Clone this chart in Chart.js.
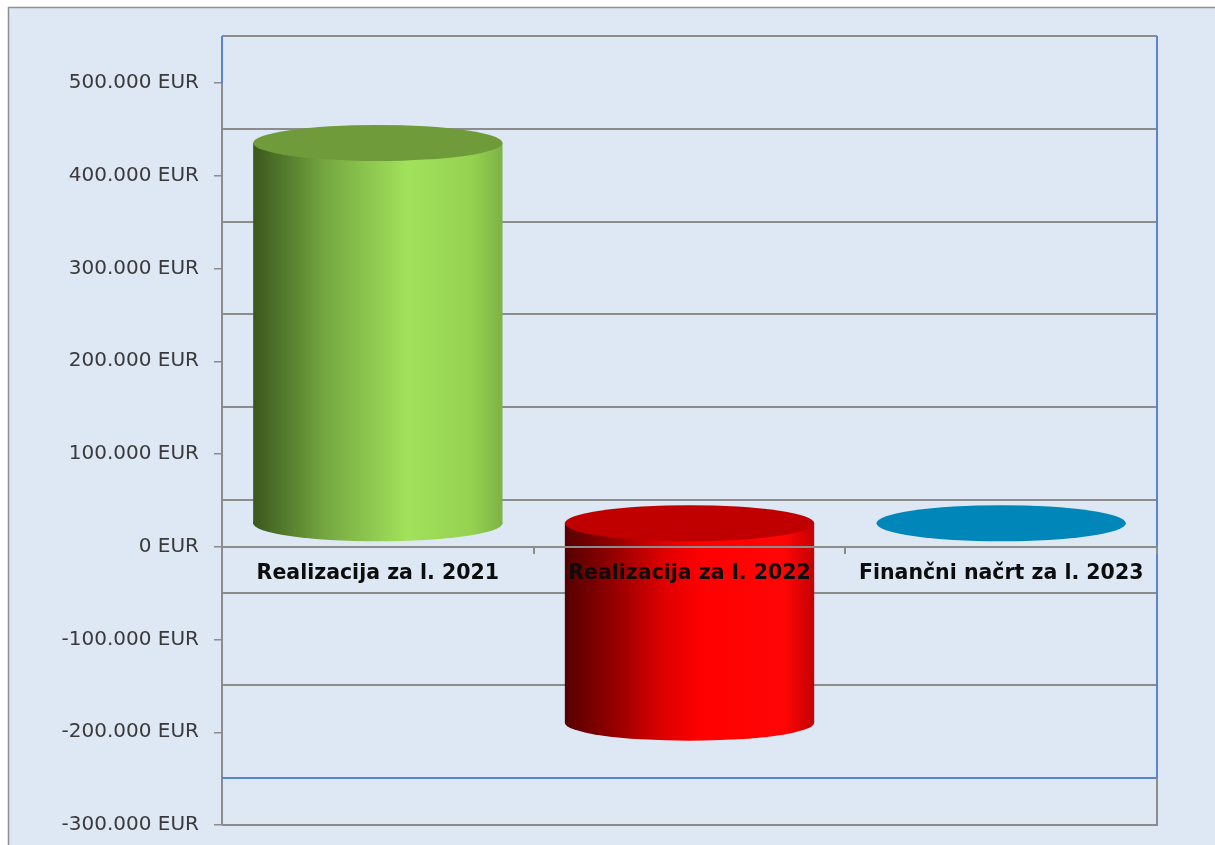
<!DOCTYPE html>
<html>
<head>
<meta charset="utf-8">
<script src="https://cdn.jsdelivr.net/npm/chart.js@4.4.1/dist/chart.umd.min.js"></script>
<style>
  body { margin: 0; background: #fff; }
  canvas { display: block; }
</style>
</head>
<body>
<canvas id="chart" width="1215" height="845"></canvas>
<script>
// data
const categories = ['Realizacija za l. 2021', 'Realizacija za l. 2022', 'Finančni načrt za l. 2023'];
const amounts = [410000, -215000, 0];
const axisMin = -300000;
const axisMax = 500000;
const axisStep = 100000;

// cylinder looks
const sideStops = [
  [[0, '#3a581d'], [0.3, '#76aa42'], [0.62, '#a2e25b'], [0.88, '#94d150'], [1, '#7db245']],
  [[0, '#560000'], [0.18, '#8e0000'], [0.4, '#e00000'], [0.55, '#ff0000'], [0.88, '#ff0606'], [1, '#c40000']],
  [[0, '#006c96'], [0.5, '#0086b9'], [1, '#0078a6']]
];
const capColors = ['#6f9b3b', '#c00000', '#0086b9'];

const bgColor = '#dde8f4';
const gridGray = '#8c8c8c';
const wallBlue = '#5a84d0';
const depth = 47;     // back wall sits this many px above the front
const capRy = 18;

function fmtEur(v) {
  const s = Math.abs(v).toString().replace(/\B(?=(\d{3})+(?!\d))/g, '.');
  return (v < 0 ? '-' : '') + s + ' EUR';
}

const wallPlugin = {
  id: 'wall',
  beforeDraw(chart) {
    const c = chart.ctx;
    c.save();
    c.fillStyle = '#fff';
    c.fillRect(0, 0, chart.width, chart.height);
    c.fillStyle = bgColor;
    c.fillRect(8, 7, chart.width, chart.height);
    c.strokeStyle = '#8f8f8f';
    c.lineWidth = 1.5;
    c.beginPath();
    c.moveTo(8.5, chart.height);
    c.lineTo(8.5, 7.5);
    c.lineTo(chart.width, 7.5);
    c.stroke();
    c.restore();
  },
  beforeDatasetsDraw(chart) {
    const c = chart.ctx;
    const a = chart.chartArea;
    const y = chart.scales.y;
    c.save();
    c.lineWidth = 2;
    const vals = y.ticks.map(t => t.value);
    vals.forEach(v => {
      const yy = Math.round(y.getPixelForValue(v) - depth);
      c.strokeStyle = v === axisMin ? wallBlue : gridGray;
      c.beginPath();
      c.moveTo(a.left, yy);
      c.lineTo(a.right, yy);
      c.stroke();
    });
    const topBack = y.getPixelForValue(axisMax) - depth;
    const botBack = y.getPixelForValue(axisMin) - depth;
    // right wall edge
    c.strokeStyle = wallBlue;
    c.beginPath();
    c.moveTo(a.right, topBack);
    c.lineTo(a.right, botBack);
    c.stroke();
    c.strokeStyle = gridGray;
    c.beginPath();
    c.moveTo(a.right, botBack);
    c.lineTo(a.right, a.bottom);
    c.lineTo(a.left, a.bottom);
    c.stroke();
    // left edge above the front axis
    c.strokeStyle = wallBlue;
    c.beginPath();
    c.moveTo(a.left, topBack);
    c.lineTo(a.left, a.top);
    c.stroke();
    c.restore();
  },
  afterDatasetsDraw(chart) {
    const c = chart.ctx;
    const y = chart.scales.y;
    const meta = chart.getDatasetMeta(0);
    meta.data.forEach((bar, i) => {
      const v = amounts[i];
      const rx = bar.width / 2;
      const x0 = bar.x - rx, x1 = bar.x + rx;
      const yTop = y.getPixelForValue(Math.max(v, 0)) - depth / 2;
      const yBot = y.getPixelForValue(Math.min(v, 0)) - depth / 2;
      const g = c.createLinearGradient(x0, 0, x1, 0);
      sideStops[i].forEach(s => g.addColorStop(s[0], s[1]));
      c.save();
      if (yBot - yTop > 0.5) {
        c.fillStyle = g;
        c.beginPath();
        c.ellipse(bar.x, yBot, rx, capRy, 0, 0, Math.PI * 2);
        c.fill();
        c.fillRect(x0, yTop, x1 - x0, yBot - yTop);
      }
      c.fillStyle = capColors[i];
      c.beginPath();
      c.ellipse(bar.x, yTop, rx, capRy, 0, 0, Math.PI * 2);
      c.fill();
      c.restore();
    });
  }
};

new Chart(document.getElementById('chart'), {
  type: 'bar',
  data: {
    labels: categories,
    datasets: [{
      data: amounts,
      backgroundColor: 'rgba(0,0,0,0)',
      borderWidth: 0,
      barPercentage: 0.8,
      categoryPercentage: 1.0
    }]
  },
  options: {
    responsive: false,
    animation: false,
    layout: { padding: { left: 0, top: 83, right: 58, bottom: 20 } },
    plugins: { legend: { display: false }, tooltip: { enabled: false } },
    scales: {
      x: {
        position: { y: 0 },
        afterFit(s) { s.height = 0; s.paddingTop = 0; s.paddingBottom = 0; },
        grid: { drawOnChartArea: false, tickLength: 6, color: gridGray, lineWidth: 2, z: 1 },
        border: { color: gridGray, width: 2, z: 1 },
        ticks: {
          z: 1,
          padding: 9,
          color: '#0d0d0d',
          maxRotation: 0,
          font: { family: 'DejaVu Sans', size: 20.5, weight: 'bold' }
        }
      },
      y: {
        min: axisMin,
        max: axisMax,
        afterFit(s) { s.width = 222; s.paddingTop = 0; s.paddingBottom = 0; },
        grid: { drawOnChartArea: false, tickLength: 8, color: gridGray, lineWidth: 1.5 },
        border: { color: gridGray, width: 2 },
        ticks: {
          stepSize: axisStep,
          padding: 15,
          color: '#3a3a3a',
          font: { family: 'DejaVu Sans', size: 20 },
          callback: v => fmtEur(v)
        }
      }
    }
  },
  plugins: [wallPlugin]
});
</script>
</body>
</html>
